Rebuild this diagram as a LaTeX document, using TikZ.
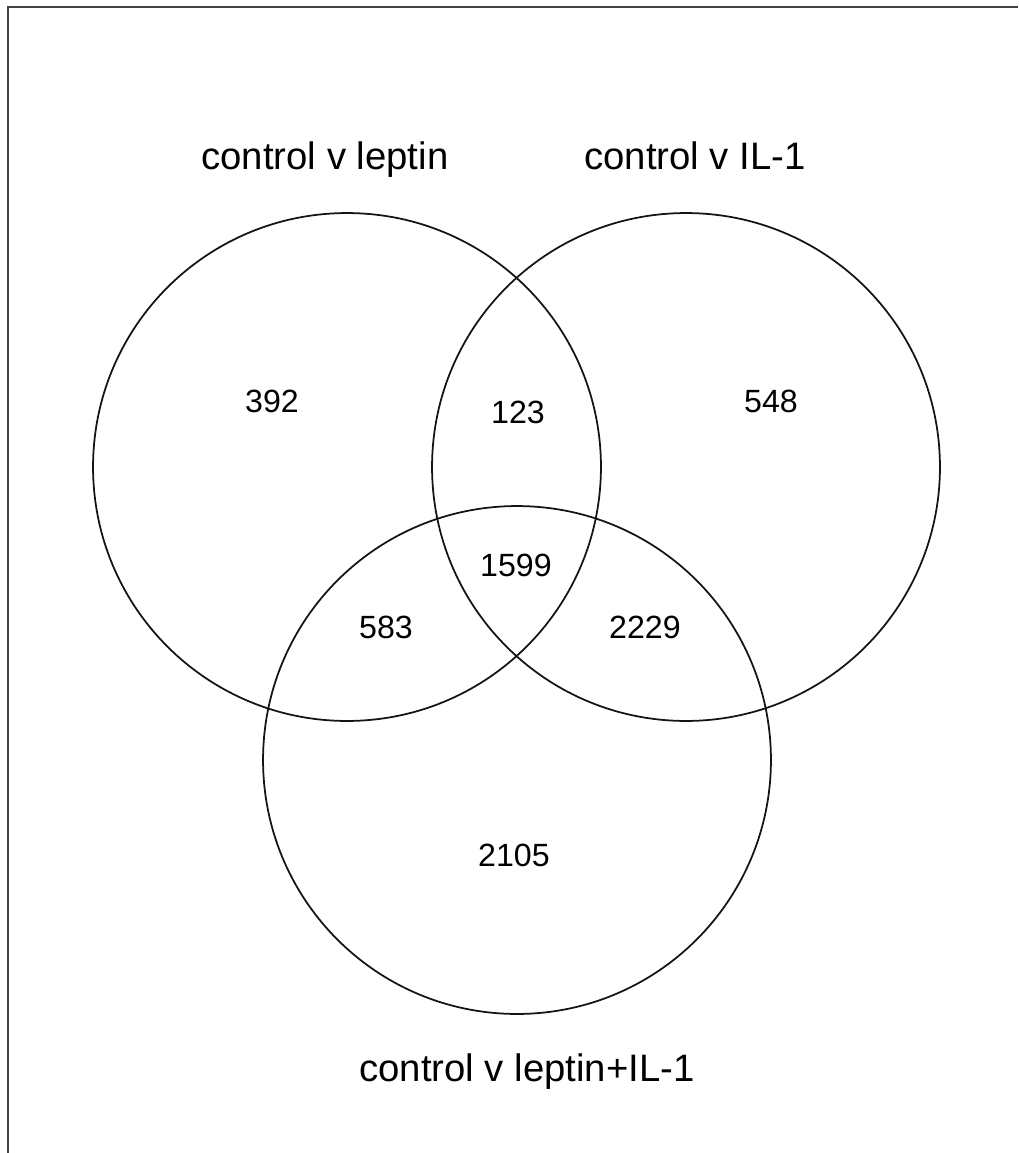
\documentclass[tikz,border=0pt]{standalone}
\usepackage{fontspec}
\setmainfont{Liberation Sans}
\usetikzlibrary{positioning}
\definecolor{ink}{RGB}{20,20,20}
\tikzset{
  setring/.style={circle,draw=ink,line width=1pt,minimum size=10.16cm,inner sep=0pt},
  title/.style={font=\fontsize{21.8}{25}\selectfont,text=black,inner sep=0pt,anchor=base},
  count/.style={font=\fontsize{18.3}{22}\selectfont,text=black,inner sep=0pt},
}
\begin{document}
\begin{tikzpicture}[x=0.02cm,y=-0.02cm]
  \useasboundingbox (0,0) rectangle (1018,1153);
  % frame (top and left only)
  \draw[ink!80,line width=1.1pt] (8,1153) -- (8,7) -- (1018,7);
  % sets
  \node[setring] (leptin) at (347,467) {};
  \node[setring] (il) at (686,467) {};
  \node[setring] (both) at (517,760) {};
  % set names
  \node[title] (tl) at (325,169.5) {control v leptin};
  \node[title] (ti) at (695,169.5) {control v IL-1};
  \node[title] (tb) at (527,1081) {control v leptin+IL-1};
  % region counts
  \node[count] (n1) at (272,401) {392};
  \node[count] (n2) at (518,412) {123};
  \node[count] (n3) at (771,401) {548};
  \node[count] (n4) at (516,565) {1599};
  \node[count] (n5) at (386,627) {583};
  \node[count] (n6) at (645,627) {2229};
  \node[count] (n7) at (514,855) {2105};
\end{tikzpicture}
\end{document}
